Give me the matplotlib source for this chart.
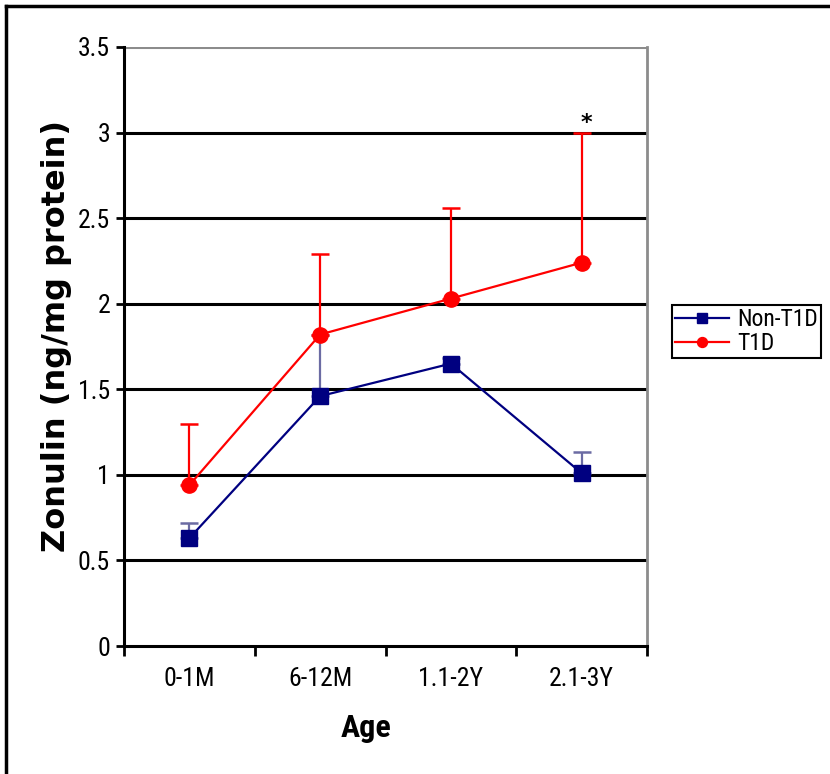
import matplotlib
matplotlib.use("Agg")
import matplotlib.pyplot as plt
import numpy as np
from matplotlib.lines import Line2D

categories = ["0-1M", "6-12M", "1.1-2Y", "2.1-3Y"]
non_t1d = [0.63, 1.46, 1.65, 1.01]
non_t1d_upper = [0.72, 1.82, 1.68, 1.135]
t1d = [0.94, 1.82, 2.03, 2.24]
t1d_upper = [1.30, 2.29, 2.56, 3.00]
yticks = [0, 0.5, 1, 1.5, 2, 2.5, 3, 3.5]
ytick_labels = ["0", "0.5", "1", "1.5", "2", "2.5", "3", "3.5"]

narrow = ["Liberation Sans Narrow", "Roboto Condensed", "Liberation Sans"]

W, H = 830, 774
fig = plt.figure(figsize=(W / 100, H / 100), dpi=100)
ax = fig.add_axes([124 / W, 1 - 646 / H, (647 - 124) / W, (646 - 47) / H])

x = np.arange(len(categories))

# gridlines
for v in yticks[1:-1]:
    ax.axhline(v, color="black", lw=2.2, zorder=1)
ax.axhline(yticks[-1], color="#8c8c8c", lw=2.2, zorder=1)

nt = np.array(non_t1d)
tt = np.array(t1d)
ax.errorbar(x, nt, yerr=[np.zeros_like(nt), np.array(non_t1d_upper) - nt],
            fmt="none", ecolor="#6b6ba3", elinewidth=1.6, capsize=6.5, capthick=1.8, zorder=2)
ax.errorbar(x, tt, yerr=[np.zeros_like(tt), np.array(t1d_upper) - tt],
            fmt="none", ecolor="#ff0000", elinewidth=1.6, capsize=6.5, capthick=1.8, zorder=2)

ax.plot(x, nt, color="#000080", lw=1.6, marker="s", markersize=11, label="Non-T1D", zorder=3)
ax.plot(x, tt, color="#ff0000", lw=1.6, marker="o", markersize=11, label="T1D", zorder=4)

ax.text(x[3] + 0.04, 3.0, "*", ha="center", va="bottom", fontsize=16, fontweight="bold")

ax.set_xlim(-0.5, len(categories) - 0.5)
ax.set_ylim(0, 3.5)
ax.set_yticks(yticks)
ax.set_yticklabels(ytick_labels, family=narrow, fontsize=18.5)
ax.set_xticks(x)
ax.set_xticklabels(categories, family=narrow, fontsize=18.5)
ax.set_xticks(np.arange(-0.5, len(categories)), minor=True)
ax.tick_params(axis="x", which="major", length=0, pad=15)
ax.tick_params(axis="x", which="minor", length=7, width=2, direction="out")
ax.tick_params(axis="y", length=6, width=2, direction="out", pad=4)

for s in ["left", "bottom"]:
    ax.spines[s].set_color("black")
    ax.spines[s].set_linewidth(2.2)
ax.spines["right"].set_color("#8c8c8c")
ax.spines["right"].set_linewidth(2)
ax.spines["top"].set_visible(False)

ax.set_xlabel("Age", family=narrow, fontsize=23, fontweight="bold", va="center")
ax.xaxis.set_label_coords((366 - 124) / 523, (646 - 728) / 599)
ax.set_ylabel("Zonulin (ng/mg protein)", family=["DejaVu Sans"], fontsize=23,
              fontweight="bold", va="center")
ax.yaxis.set_label_coords((57 - 124) / 523, (646 - 335.5) / 599)

leg = ax.legend(loc="upper left", bbox_to_anchor=(672 / W, 1 - 305 / H),
                bbox_transform=fig.transFigure, borderaxespad=0, fancybox=False,
                framealpha=1, edgecolor="black", handlelength=2.3, markerscale=0.65,
                prop={"family": narrow, "size": 17}, borderpad=0.12,
                labelspacing=0.05, handletextpad=0.35)
leg.get_frame().set_linewidth(1.5)

# outer frame (left and top)
fig.add_artist(Line2D([6 / W, 6 / W], [0, 1 - 6 / H], color="black", lw=2.5,
                      transform=fig.transFigure))
fig.add_artist(Line2D([6 / W, 1], [1 - 6 / H, 1 - 6 / H], color="black", lw=2.5,
                      transform=fig.transFigure))

fig.savefig("out.png", dpi=100)
